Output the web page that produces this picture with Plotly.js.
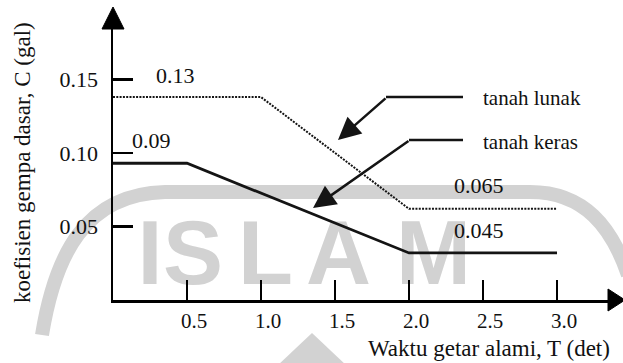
<!DOCTYPE html>
<html>
<head>
<meta charset="utf-8">
<script src="https://cdn.plot.ly/plotly-3.0.1.min.js"></script>
<style>html,body{margin:0;padding:0;background:#fff;}#chart{width:623px;height:363px;}</style>
</head>
<body>
<div id="chart"></div>
<script>
// ---- data ----
const T_lunak = [0, 1.0, 2.0, 3.0];
const C_lunak = [0.138, 0.138, 0.062, 0.062];
const T_keras = [0, 0.5, 2.0, 3.0];
const C_keras = [0.093, 0.093, 0.032, 0.032];
const xTickVals = [0.5, 1.0, 1.5, 2.0, 2.5, 3.0];
const xTickText = ['0.5', '1.0', '1.5', '2.0', '2.5', '3.0'];
const yTickVals = [0.05, 0.10, 0.15];
const yTickText = ['0.05', '0.10', '0.15'];
const valueLabels = ['0.13', '0.09', '0.065', '0.045'];
const seriesNames = ['tanah lunak', 'tanah keras'];
const xTitle = 'Waktu getar alami, T (det)';
const yTitle = 'koefisien gempa dasar, C (gal)';
const watermark = ['I', 'S', 'L', 'A', 'M'];

// ---- layout geometry ----
const W = 623, H = 363;
const M = {l: 113, r: 13, t: 28, b: 63};
const PW = W - M.l - M.r, PH = H - M.t - M.b;
const XMAX = 3.358, YMAX = 0.185;
const px = v => (v - M.l) / PW;          // pixel -> paper x
const py = v => (H - M.b - v) / PH;      // pixel -> paper y
const SERIF = '"Liberation Serif", "Times New Roman", serif';
const INK = '#141414';
const TXT = '#111';
const GRAY = '#d2d2d2';

const traces = [
  {x: T_lunak, y: C_lunak, name: seriesNames[0], mode: 'lines',
   line: {color: INK, width: 2, dash: '2px,1.3px'}, hoverinfo: 'skip'},
  {x: T_keras, y: C_keras, name: seriesNames[1], mode: 'lines',
   line: {color: INK, width: 2.8}, hoverinfo: 'skip'}
];

const shapes = [];
// watermark ring (light gray band)
shapes.push({type: 'path', xref: 'paper', yref: 'paper', layer: 'below',
  path: `M ${px(42)} ${py(335)} C ${px(55)} ${py(255)}, ${px(85)} ${py(194)}, ${px(165)} ${py(192)} L ${px(530)} ${py(192)} C ${px(585)} ${py(192)}, ${px(612)} ${py(228)}, ${px(628)} ${py(275)}`,
  line: {color: GRAY, width: 14}});
// watermark peak at the bottom
shapes.push({type: 'path', xref: 'paper', yref: 'paper', layer: 'below',
  path: `M ${px(277)} ${py(366)} L ${px(312)} ${py(333)} L ${px(347)} ${py(366)} Z`,
  fillcolor: GRAY, line: {width: 0}});
// watermark letters
const letterCx = [150, 193, 265.5, 338.5, 433.5];
watermark.forEach((ch, i) => {
  shapes.push({type: 'rect', xref: 'paper', yref: 'paper', layer: 'below',
    x0: px(letterCx[i] - 40), x1: px(letterCx[i] + 40), y0: py(284), y1: py(204),
    line: {width: 0}, fillcolor: 'rgba(0,0,0,0)',
    label: {text: ch, textposition: 'middle center',
      font: {family: '"Liberation Sans", Arial, sans-serif', size: 90, color: GRAY, weight: 'bold'}}});
});
// axis arrowheads
shapes.push({type: 'path', xref: 'paper', yref: 'paper', layer: 'above',
  path: `M ${px(102)} ${py(29)} L ${px(124)} ${py(29)} L ${px(113)} ${py(7)} Z`,
  fillcolor: '#000', line: {color: '#000', width: 1}});
shapes.push({type: 'path', xref: 'paper', yref: 'paper', layer: 'above',
  path: `M ${px(608)} ${py(289)} L ${px(608)} ${py(311)} L ${px(625)} ${py(300)} Z`,
  fillcolor: '#000', line: {color: '#000', width: 1}});
// pointer leader lines (horizontal parts)
shapes.push({type: 'line', xref: 'paper', yref: 'paper', x0: px(463), x1: px(386), y0: py(97), y1: py(97),
  line: {color: INK, width: 2.5}});
shapes.push({type: 'line', xref: 'paper', yref: 'paper', x0: px(463), x1: px(409), y0: py(140), y1: py(140),
  line: {color: INK, width: 2.5}});

const f = s => ({family: SERIF, size: s, color: TXT});
const annotations = [
  {x: px(175), y: py(75), text: valueLabels[0], font: f(22)},
  {x: px(151), y: py(140), text: valueLabels[1], font: f(22)},
  {x: px(479), y: py(186), text: valueLabels[2], font: f(22)},
  {x: px(479), y: py(230), text: valueLabels[3], font: f(22)},
  {x: px(481), y: py(98), text: seriesNames[0], xanchor: 'left', font: f(21)},
  {x: px(481), y: py(142), text: seriesNames[1], xanchor: 'left', font: f(21)},
  {x: px(489), y: py(348), text: xTitle, font: f(23), borderpad: 0},
  {x: px(22), y: py(163), text: yTitle, textangle: -90, font: f(23)}
].map(a => Object.assign({xref: 'paper', yref: 'paper', showarrow: false,
  xanchor: 'center', yanchor: 'middle'}, a));
// pointer arrows (diagonal parts)
annotations.push({xref: 'paper', yref: 'paper', axref: 'pixel', ayref: 'pixel',
  x: px(338), y: py(140), ax: 387 - 338, ay: 97 - 140, text: '', showarrow: true,
  arrowhead: 2, arrowsize: 1.8, arrowwidth: 2.5, arrowcolor: INK, standoff: 0});
annotations.push({xref: 'paper', yref: 'paper', axref: 'pixel', ayref: 'pixel',
  x: px(313), y: py(208), ax: 410 - 313, ay: 140 - 208, text: '', showarrow: true,
  arrowhead: 2, arrowsize: 1.8, arrowwidth: 2.5, arrowcolor: INK, standoff: 0});

const layout = {
  width: W, height: H,
  margin: M,
  paper_bgcolor: '#fff', plot_bgcolor: 'rgba(0,0,0,0)',
  showlegend: false,
  font: f(22),
  xaxis: {range: [0, XMAX], showgrid: false, zeroline: false,
    showline: true, linecolor: '#000', linewidth: 2.5,
    ticks: 'inside', ticklen: 20, tickwidth: 2.2, tickcolor: '#000',
    tickmode: 'array', tickvals: xTickVals, ticktext: xTickText,
    tickfont: f(21), ticklabelshift: 7, ticklabelstandoff: 0,
    fixedrange: true},
  yaxis: {range: [0, YMAX], showgrid: false, zeroline: false,
    showline: true, linecolor: '#000', linewidth: 2.5,
    ticks: 'inside', ticklen: 20, tickwidth: 2.2, tickcolor: '#000',
    tickmode: 'array', tickvals: yTickVals, ticktext: yTickText,
    tickfont: f(22), ticklabelstandoff: 8,
    fixedrange: true},
  shapes: shapes,
  annotations: annotations
};

Plotly.newPlot('chart', traces, layout, {displayModeBar: false, staticPlot: true});
</script>
</body>
</html>
